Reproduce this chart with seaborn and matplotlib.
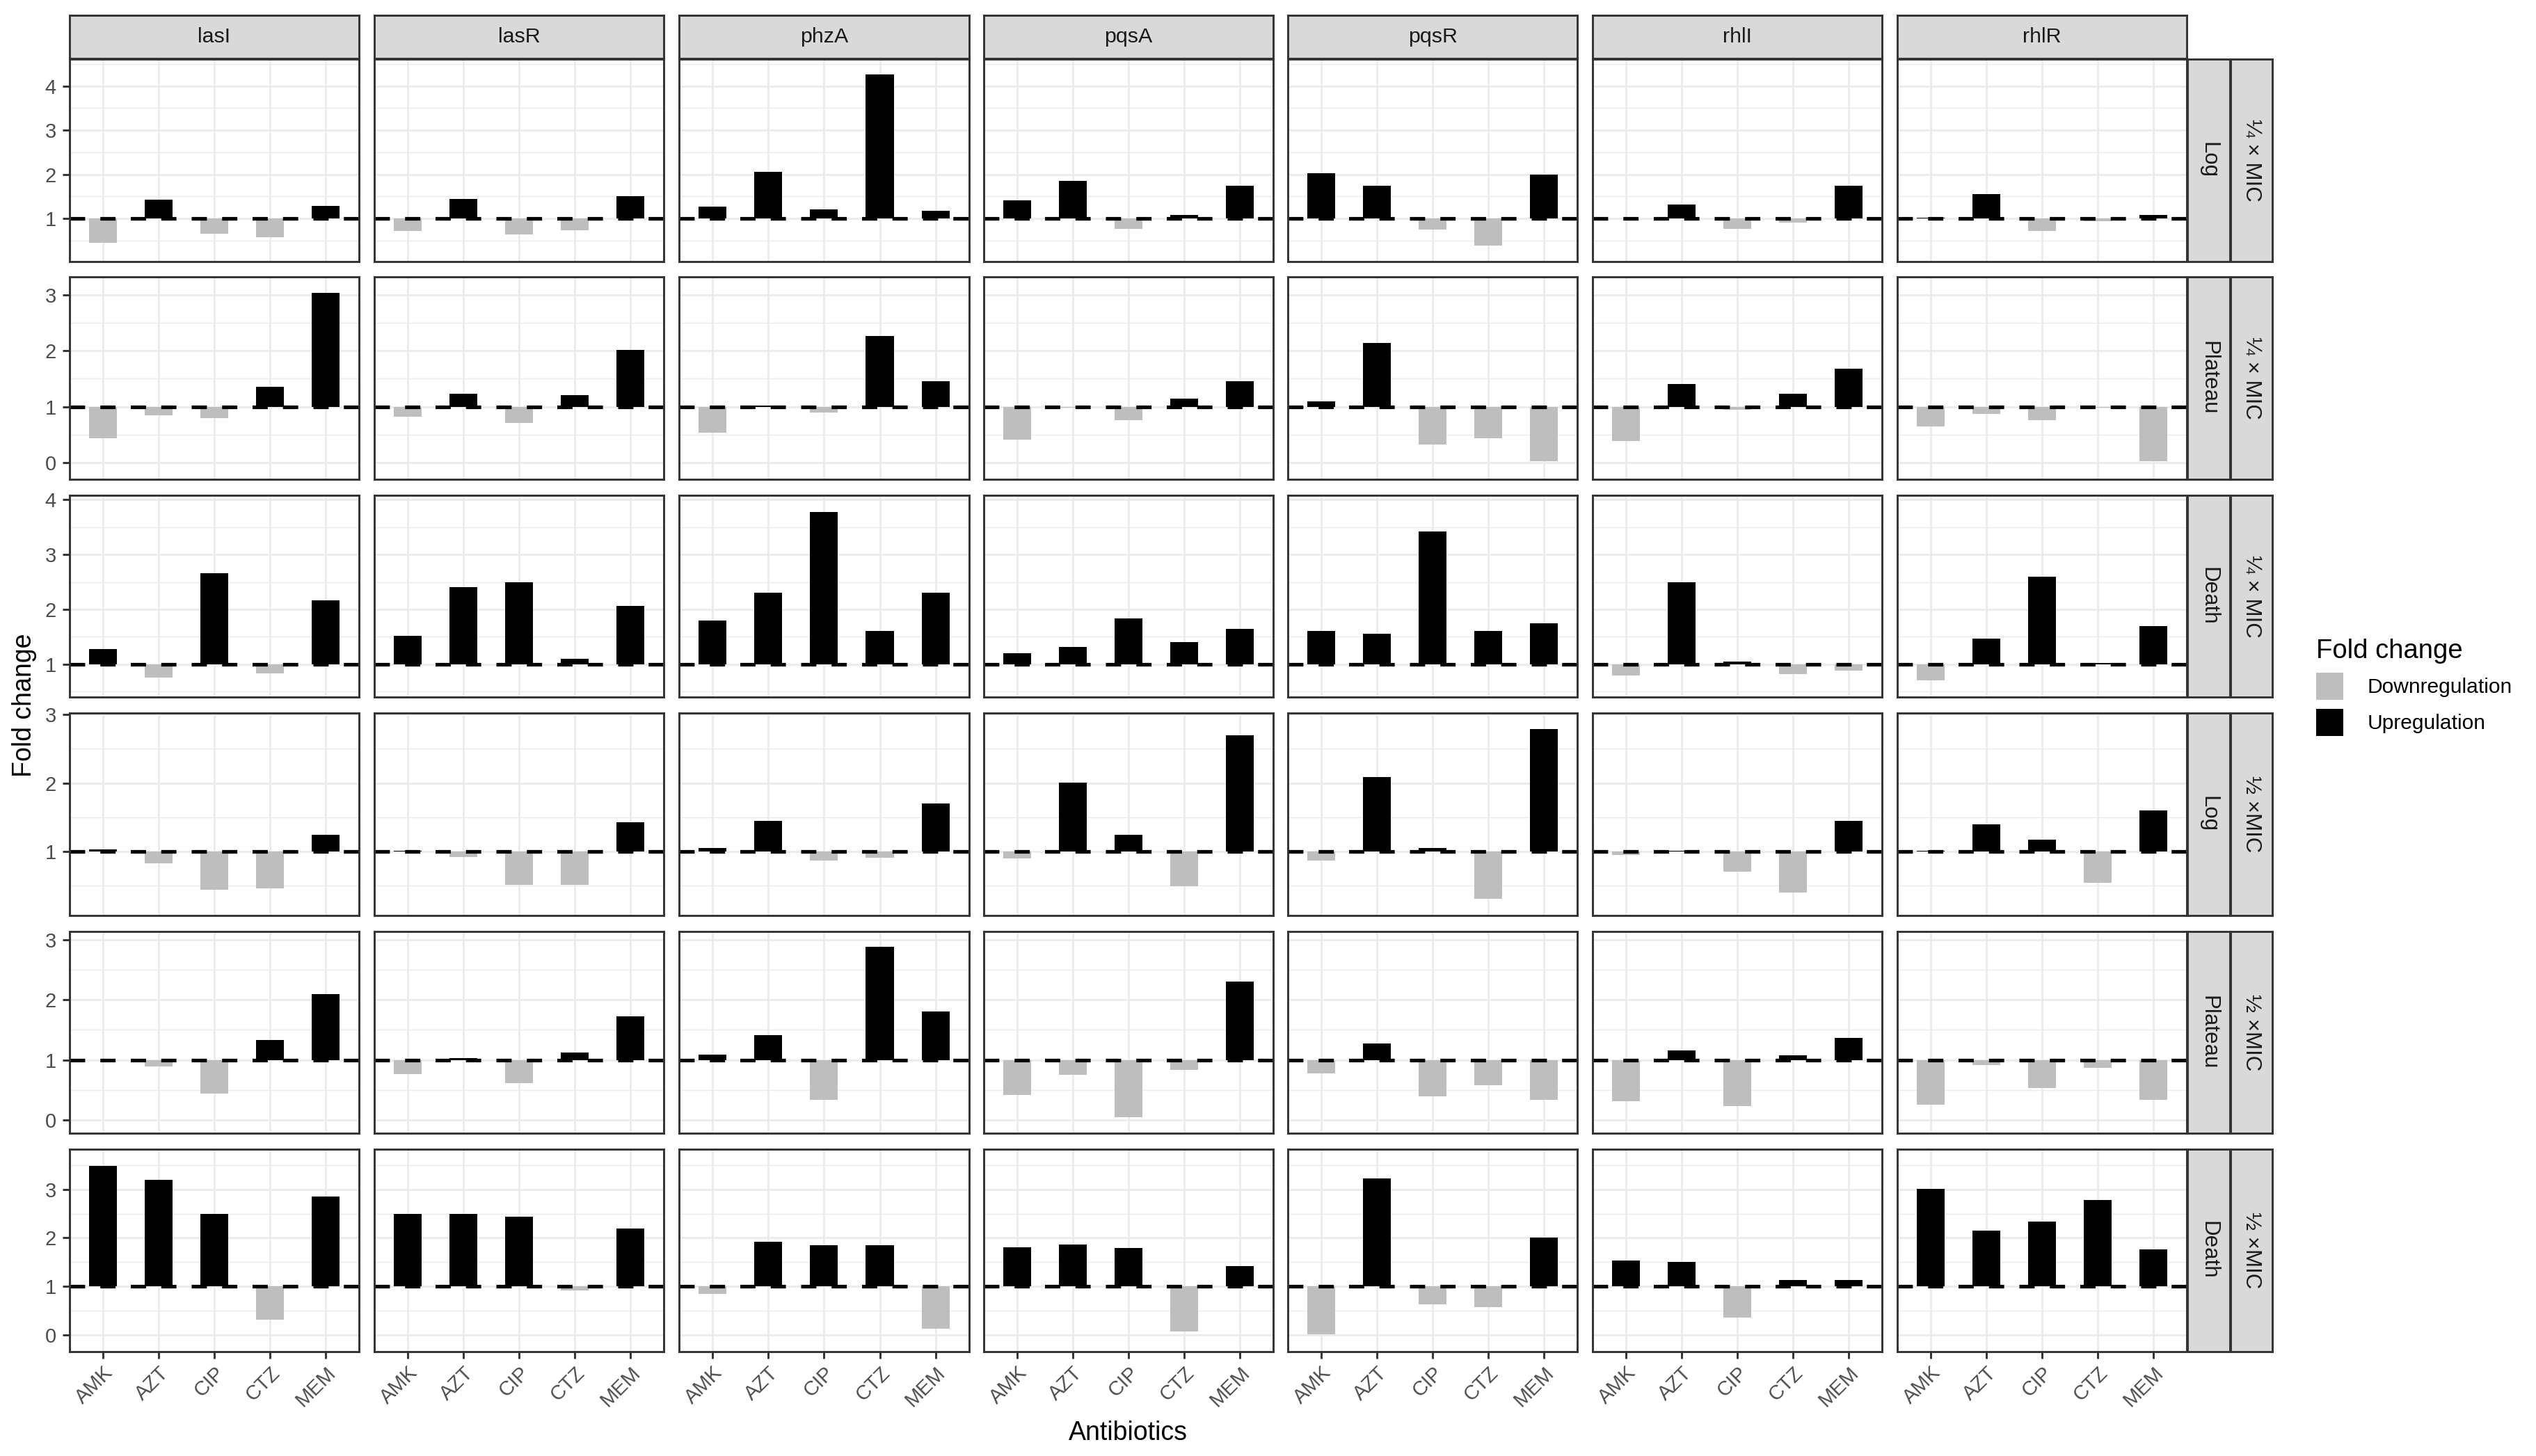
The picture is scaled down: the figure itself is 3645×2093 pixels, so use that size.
import numpy as np
import pandas as pd
import matplotlib
matplotlib.use("Agg")
import matplotlib.pyplot as plt
import seaborn as sns
from matplotlib.patches import Patch
from matplotlib.ticker import MultipleLocator

plt.rcParams['font.family'] = ['Liberation Sans', 'DejaVu Sans']
FONT = ['Liberation Sans', 'DejaVu Sans']

# ---------------- data ----------------
genes = ["lasI", "lasR", "phzA", "pqsA", "pqsR", "rhlI", "rhlR"]
antibiotics = ["AMK", "AZT", "CIP", "CTZ", "MEM"]
phases = ["Log", "Plateau", "Death"]
concentrations = ["¼ × MIC", "½ ×MIC"]

# fold change, one list per gene (AMK, AZT, CIP, CTZ, MEM)
quarter_log = [
    [0.45, 1.43, 0.65, 0.57, 1.29],
    [0.72, 1.44, 0.63, 0.73, 1.50],
    [1.26, 2.05, 1.21, 4.26, 1.17],
    [1.41, 1.85, 0.77, 1.08, 1.74],
    [2.03, 1.74, 0.75, 0.39, 2.00],
    [1.00, 1.32, 0.77, 0.91, 1.74],
    [1.02, 1.55, 0.72, 0.93, 1.08],
]
quarter_plateau = [
    [0.44, 0.85, 0.80, 1.36, 3.04],
    [0.82, 1.23, 0.71, 1.21, 2.02],
    [0.53, 1.02, 0.90, 2.27, 1.46],
    [0.41, 0.98, 0.76, 1.14, 1.46],
    [1.10, 2.14, 0.32, 0.44, 0.02],
    [0.39, 1.40, 0.94, 1.23, 1.68],
    [0.64, 0.87, 0.76, 0.98, 0.02],
]
quarter_death = [
    [1.28, 0.76, 2.66, 0.84, 2.17],
    [1.52, 2.41, 2.50, 1.10, 2.06],
    [1.80, 2.31, 3.77, 1.61, 2.31],
    [1.20, 1.31, 1.84, 1.40, 1.64],
    [1.61, 1.56, 3.42, 1.61, 1.75],
    [0.80, 2.49, 1.05, 0.82, 0.89],
    [0.71, 1.47, 2.59, 1.02, 1.70],
]
half_log = [
    [1.03, 0.83, 0.44, 0.46, 1.24],
    [1.01, 0.92, 0.51, 0.51, 1.43],
    [1.05, 1.45, 0.87, 0.91, 1.70],
    [0.90, 2.01, 1.24, 0.49, 2.70],
    [0.87, 2.09, 1.05, 0.31, 2.79],
    [0.95, 1.01, 0.71, 0.40, 1.45],
    [1.01, 1.40, 1.17, 0.54, 1.60],
]
half_plateau = [
    [0.99, 0.89, 0.44, 1.33, 2.10],
    [0.77, 1.03, 0.61, 1.12, 1.73],
    [1.09, 1.41, 0.34, 2.88, 1.81],
    [0.42, 0.75, 0.05, 0.83, 2.30],
    [0.78, 1.27, 0.39, 0.58, 0.34],
    [0.31, 1.16, 0.23, 1.08, 1.36],
    [0.25, 0.92, 0.53, 0.87, 0.34],
]
half_death = [
    [3.49, 3.20, 2.49, 0.32, 2.85],
    [2.50, 2.50, 2.44, 0.92, 2.20],
    [0.85, 1.92, 1.85, 1.85, 0.13],
    [1.81, 1.87, 1.79, 0.07, 1.42],
    [0.01, 3.23, 0.63, 0.57, 2.00],
    [1.53, 1.50, 0.36, 1.13, 1.13],
    [3.01, 2.15, 2.33, 2.78, 1.77],
]

facet_rows = [
    (concentrations[0], phases[0], quarter_log),
    (concentrations[0], phases[1], quarter_plateau),
    (concentrations[0], phases[2], quarter_death),
    (concentrations[1], phases[0], half_log),
    (concentrations[1], phases[1], half_plateau),
    (concentrations[1], phases[2], half_death),
]
row_ylims = [(0.03, 4.61), (-0.30, 3.32), (0.40, 4.08),
             (0.07, 3.02), (-0.22, 3.14), (-0.34, 3.83)]
row_ticks = [[1, 2, 3, 4], [0, 1, 2, 3], [1, 2, 3, 4],
             [1, 2, 3], [0, 1, 2, 3], [0, 1, 2, 3]]

reg_levels = ["Downregulation", "Upregulation"]
palette = {"Downregulation": "#BEBEBE", "Upregulation": "#000000"}

records = []
for ri, (conc, phase, table) in enumerate(facet_rows):
    for g, vals in zip(genes, table):
        for ab, v in zip(antibiotics, vals):
            records.append(dict(row=ri, conc=conc, phase=phase, gene=g,
                                antibiotic=ab, fold=v))
df = pd.DataFrame(records)
df["delta"] = df["fold"] - 1.0
df["reg"] = np.where(df["fold"] < 1.0, reg_levels[0], reg_levels[1])

# ---------------- layout ----------------
W, H = 3645, 2093
DPI = 300
fig = plt.figure(figsize=(W / DPI, H / DPI), dpi=DPI)
fig.patch.set_facecolor("white")

def rect(left, top, width, height):
    return [left / W, 1 - (top + height) / H, width / W, height / H]

panel_left = [99.6, 538.0, 976.3, 1413.5, 1851.0, 2289.0, 2726.7]
pw, ph = 416.3, 290.5
row_top = [85.0 + 313.4 * i for i in range(6)]

STRIP_FILL = "#D9D9D9"
EDGE = "#333333"
GRID = "#EBEBEB"

def strip(rc, text, rotation=0, size=7.3):
    sax = fig.add_axes(rect(*rc))
    sax.set_facecolor(STRIP_FILL)
    for s in sax.spines.values():
        s.set_color(EDGE)
        s.set_linewidth(0.7)
    sax.set_xticks([])
    sax.set_yticks([])
    sax.text(0.5, 0.5, text, transform=sax.transAxes, ha="center", va="center",
             rotation=rotation, fontsize=size, color="#1A1A1A", family=FONT)
    return sax

for ri in range(6):
    conc, phase, _ = facet_rows[ri]
    for ci, g in enumerate(genes):
        ax = fig.add_axes(rect(panel_left[ci], row_top[ri], pw, ph))
        sub = df[(df["row"] == ri) & (df["gene"] == g)]
        sns.barplot(data=sub, x="antibiotic", y="delta", hue="reg",
                    order=antibiotics, hue_order=reg_levels, palette=palette,
                    dodge=False, width=0.5, saturation=1, errorbar=None,
                    legend=False, bottom=1.0, linewidth=0, ax=ax, zorder=2)
        ax.set_xlabel("")
        ax.set_ylabel("")
        ax.set_facecolor("white")
        ax.set_xlim(-0.6, 4.6)
        ax.set_ylim(*row_ylims[ri])
        ax.set_yticks(row_ticks[ri])
        ax.set_yticklabels([str(t) for t in row_ticks[ri]])
        ax.yaxis.set_minor_locator(MultipleLocator(0.5))
        ax.set_axisbelow(True)
        ax.grid(True, which="major", axis="both", color=GRID, lw=0.65, zorder=0)
        ax.grid(True, which="minor", axis="y", color=GRID, lw=0.35, zorder=0)
        ax.axhline(1.0, color="black", lw=1.25, ls=(0, (4.2, 4.2)), zorder=3)
        for s in ax.spines.values():
            s.set_color(EDGE)
            s.set_linewidth(0.7)
            s.set_zorder(4)
        ax.tick_params(which="minor", length=0)
        ax.tick_params(axis="y", which="major", left=(ci == 0), labelleft=(ci == 0),
                       length=2.5, width=0.7, color=EDGE, pad=2,
                       labelsize=7, labelcolor="#4D4D4D")
        ax.tick_params(axis="x", which="major", bottom=(ri == 5), labelbottom=(ri == 5),
                       length=2.5, width=0.7, color=EDGE, pad=1.5,
                       labelsize=7, labelcolor="#4D4D4D")
        if ri == 5:
            for lab in ax.get_xticklabels():
                lab.set_rotation(45)
                lab.set_ha("right")
                lab.set_rotation_mode("anchor")
        if ri == 0:
            strip((panel_left[ci], 22.3, pw, 61.2), g)
    strip((3144.0, row_top[ri], 60.5, ph), phase, rotation=270, size=7.5)
    strip((3206.0, row_top[ri], 59.6, ph), conc, rotation=270, size=7.5)

# axis titles
fig.text(35 / W, 1 - 1014 / H, "Fold change", rotation=90, ha="center",
         va="center", fontsize=9, color="black")
fig.text(1621 / W, 1 - 2060 / H, "Antibiotics", ha="center", va="center",
         fontsize=9, color="black")

# legend
handles = [Patch(facecolor=palette[k], edgecolor="none", label=k) for k in reg_levels]
leg = fig.legend(handles=handles, title="Fold change", loc="upper left",
                 bbox_to_anchor=(3329 / W, 1 - 918 / H), frameon=False,
                 fontsize=7.2, title_fontsize=9.2, handlelength=1.3,
                 handleheight=1.63, labelspacing=0.43, handletextpad=1.15,
                 borderpad=0, borderaxespad=0, alignment="left")

fig.savefig("out.png", dpi=DPI, facecolor="white")
